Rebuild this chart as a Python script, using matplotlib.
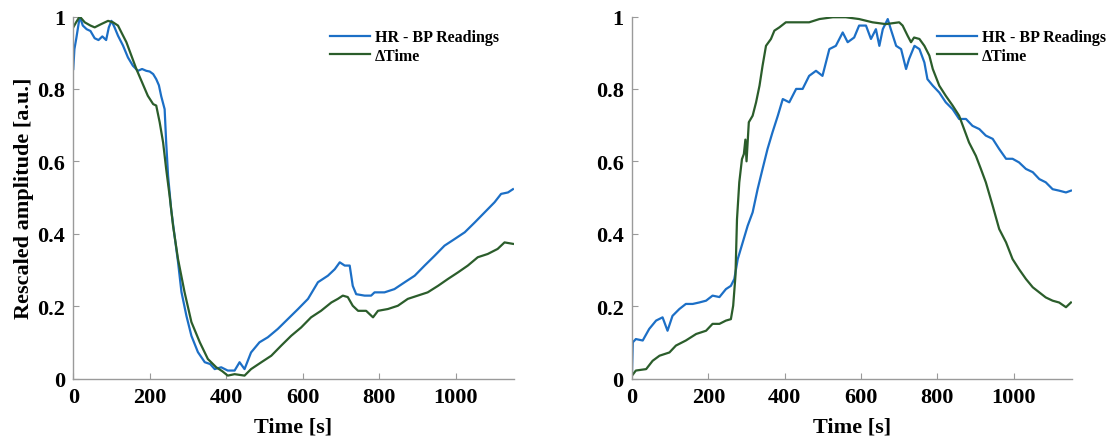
import matplotlib
matplotlib.use("Agg")
import matplotlib.pyplot as plt
from matplotlib.ticker import FuncFormatter

plt.rcParams['font.family'] = ['Liberation Serif', 'DejaVu Serif']
plt.rcParams['font.weight'] = 'bold'

# ---------------- data ----------------
left_t_hr = [0, 3, 8, 17, 25, 35, 45, 56, 66, 76, 86, 93, 100, 108, 117, 130, 143, 156, 169, 180,
             191, 200, 209, 217, 224, 230, 239, 243, 248, 256, 265, 274, 283, 296, 309, 326, 344,
             358, 370, 387, 404, 422, 435, 448, 465, 487, 509, 535, 561, 588, 614, 640, 666, 684,
             697, 710, 723, 731, 740, 762, 779, 788, 814, 840, 867, 893, 919, 945, 971, 997, 1024,
             1050, 1076, 1102, 1119, 1137, 1150]
left_hr = [0.855, 0.91, 0.94, 1.0, 0.975, 0.965, 0.96, 0.94, 0.935, 0.945, 0.935, 0.97, 0.988, 0.97,
           0.947, 0.92, 0.887, 0.864, 0.85, 0.855, 0.85, 0.848, 0.841, 0.827, 0.81, 0.78, 0.744,
           0.653, 0.56, 0.468, 0.394, 0.322, 0.239, 0.173, 0.118, 0.073, 0.045, 0.04, 0.026, 0.031,
           0.022, 0.022, 0.045, 0.026, 0.072, 0.1, 0.114, 0.137, 0.164, 0.192, 0.22, 0.266, 0.284,
           0.302, 0.321, 0.312, 0.312, 0.256, 0.233, 0.229, 0.229, 0.238, 0.238, 0.247, 0.266,
           0.284, 0.312, 0.339, 0.367, 0.385, 0.404, 0.431, 0.459, 0.487, 0.51, 0.514, 0.523]

left_t_dt = [0, 8, 17, 30, 45, 56, 73, 91, 104, 117, 126, 139, 152, 165, 178, 195, 209, 217, 226,
             235, 243, 252, 261, 274, 291, 309, 331, 352, 374, 390, 404, 422, 448, 465, 492, 518,
             544, 570, 596, 622, 648, 675, 692, 705, 718, 731, 745, 766, 784, 797, 823, 849, 875,
             901, 927, 954, 980, 1006, 1032, 1058, 1084, 1110, 1128, 1150]
left_dt = [0.97, 0.985, 1.0, 0.984, 0.975, 0.97, 0.979, 0.988, 0.984, 0.975, 0.956, 0.929, 0.892,
           0.855, 0.823, 0.781, 0.758, 0.754, 0.708, 0.652, 0.579, 0.505, 0.422, 0.33, 0.239,
           0.156, 0.1, 0.054, 0.031, 0.02, 0.008, 0.012, 0.008, 0.026, 0.045, 0.063, 0.091, 0.118,
           0.141, 0.169, 0.187, 0.21, 0.22, 0.229, 0.225, 0.201, 0.187, 0.187, 0.169, 0.187, 0.192,
           0.201, 0.22, 0.229, 0.238, 0.256, 0.275, 0.293, 0.312, 0.335, 0.344, 0.358, 0.376, 0.372]

right_t_hr = [0, 2, 10, 28, 45, 63, 80, 93, 106, 124, 141, 159, 176, 194, 211, 229, 246, 259, 268,
              277, 290, 303, 316, 329, 342, 355, 368, 382, 395, 412, 430, 447, 464, 482, 499, 517,
              534, 552, 565, 582, 595, 613, 626, 639, 648, 657, 670, 678, 692, 705, 718, 726, 740,
              753, 766, 774, 788, 805, 822, 840, 857, 875, 892, 910, 927, 945, 962, 980, 997, 1014,
              1032, 1050, 1067, 1084, 1102, 1119, 1137, 1150]
right_hr = [0.02, 0.1, 0.109, 0.105, 0.137, 0.16, 0.169, 0.132, 0.173, 0.192, 0.206, 0.206, 0.21,
            0.215, 0.229, 0.225, 0.247, 0.256, 0.275, 0.33, 0.376, 0.422, 0.459, 0.523, 0.579,
            0.634, 0.68, 0.726, 0.772, 0.763, 0.8, 0.8, 0.836, 0.85, 0.836, 0.91, 0.919, 0.956,
            0.929, 0.942, 0.975, 0.975, 0.938, 0.965, 0.919, 0.965, 0.993, 0.965, 0.919, 0.91,
            0.855, 0.883, 0.919, 0.91, 0.873, 0.827, 0.809, 0.79, 0.763, 0.744, 0.717, 0.717,
            0.698, 0.689, 0.671, 0.662, 0.634, 0.607, 0.607, 0.597, 0.579, 0.57, 0.551, 0.542,
            0.523, 0.519, 0.514, 0.519]

right_t_dt = [0, 10, 37, 54, 72, 98, 115, 141, 168, 194, 211, 229, 246, 259, 265, 271, 275, 281,
              288, 293, 297, 300, 306, 316, 325, 334, 342, 351, 364, 373, 386, 403, 430, 464, 491,
              526, 560, 595, 630, 665, 700, 709, 722, 731, 739, 753, 766, 779, 788, 805, 822, 840,
              857, 870, 883, 901, 914, 927, 945, 962, 980, 997, 1014, 1032, 1050, 1067, 1084, 1102,
              1119, 1137, 1150]
right_dt = [0.008, 0.022, 0.026, 0.049, 0.063, 0.072, 0.091, 0.105, 0.123, 0.132, 0.151, 0.151,
            0.16, 0.164, 0.201, 0.284, 0.44, 0.542, 0.606, 0.62, 0.66, 0.6, 0.708, 0.726, 0.763,
            0.809, 0.864, 0.919, 0.938, 0.961, 0.97, 0.984, 0.984, 0.984, 0.993, 0.998, 0.998,
            0.993, 0.984, 0.979, 0.984, 0.975, 0.947, 0.929, 0.942, 0.938, 0.919, 0.892, 0.855,
            0.809, 0.781, 0.754, 0.726, 0.689, 0.652, 0.615, 0.579, 0.542, 0.477, 0.413, 0.376,
            0.33, 0.302, 0.275, 0.252, 0.238, 0.224, 0.215, 0.21, 0.197, 0.21]

labels = ['HR - BP Readings', '\u0394Time']
x_ticks = [0, 200, 400, 600, 800, 1000]
y_ticks = [0, 0.2, 0.4, 0.6, 0.8, 1.0]

# ---------------- styling ----------------
BLUE = '#1c6fc6'
GREEN = '#2b5d2b'
SPINE = '#9a9a9a'

fig = plt.figure(figsize=(11.10, 4.39), dpi=100)
ax1 = fig.add_axes([0.0660, 0.1355, 0.3968, 0.8246])
ax2 = fig.add_axes([0.5694, 0.1355, 0.3961, 0.8246])

panels = [(ax1, left_t_hr, left_hr, left_t_dt, left_dt, 0.583),
          (ax2, right_t_hr, right_hr, right_t_dt, right_dt, 0.694)]

fmt = FuncFormatter(lambda v, p: '%g' % v)

for ax, th, hr, td, dt, legx in panels:
    ax.plot(th, hr, color=BLUE, lw=1.6, label=labels[0])
    ax.plot(td, dt, color=GREEN, lw=1.6, label=labels[1])
    ax.set_xlim(0, 1152)
    ax.set_ylim(0, 1)
    ax.set_xticks(x_ticks)
    ax.set_yticks(y_ticks)
    ax.yaxis.set_major_formatter(fmt)
    for s in ['top', 'right']:
        ax.spines[s].set_visible(False)
    for s in ['left', 'bottom']:
        ax.spines[s].set_color(SPINE)
        ax.spines[s].set_linewidth(1.0)
    ax.tick_params(direction='in', length=4, width=0.8, color=SPINE,
                   labelsize=16, pad=6)
    for lab in ax.get_xticklabels() + ax.get_yticklabels():
        lab.set_fontweight('bold')
    ax.set_xlabel('Time [s]', fontsize=16, fontweight='bold', labelpad=7)
    leg = ax.legend(loc='upper left', bbox_to_anchor=(legx, 0.965), frameon=False,
                    fontsize=11.5, handlelength=2.5, handletextpad=0.3,
                    labelspacing=0.15, borderaxespad=0, borderpad=0)
    for t in leg.get_texts():
        t.set_fontweight('bold')

ax1.set_ylabel('Rescaled amplitude [a.u.]', fontsize=16, fontweight='bold', labelpad=2)

fig.savefig('out.png', dpi=100)
